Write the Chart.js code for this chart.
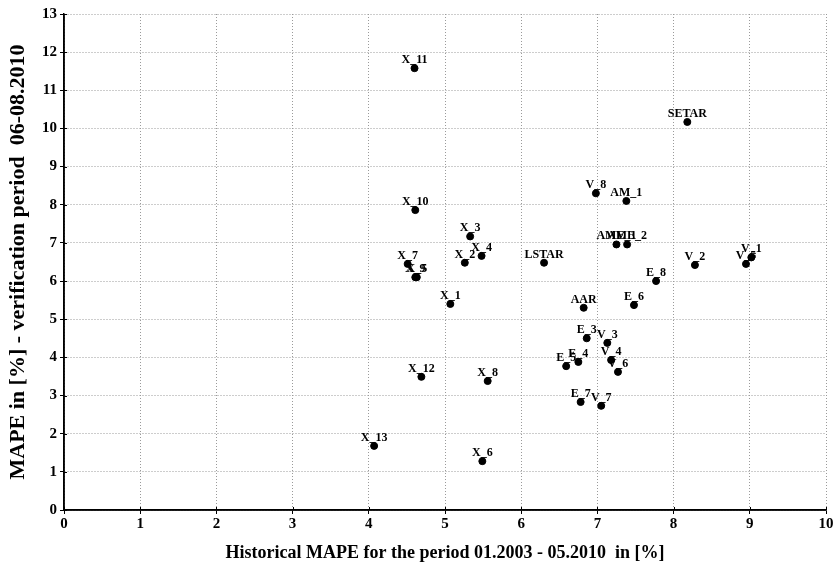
<!DOCTYPE html>
<html><head><meta charset="utf-8">
<script src="https://cdn.jsdelivr.net/npm/chart.js@4"></script>
<style>html,body{margin:0;padding:0;background:#fff}</style>
</head><body>
<canvas id="c" width="838" height="573"></canvas>
<script>
const pointLabels = ["X_11","SETAR","X_10","V_8","AM_1","AME_1","AME_2","X_3","X_4","X_2","LSTAR","X_7","X_9","X_5","V_1","V_5","V_2","E_8","E_6","X_1","AAR","E_3","V_3","V_4","V_6","E_5","E_4","X_12","X_8","E_7","V_7","X_13","X_6"];
const historicalMAPE = [4.60,8.18,4.61,6.98,7.38,7.25,7.39,5.33,5.48,5.26,6.30,4.51,4.61,4.63,9.02,8.95,8.28,7.77,7.48,5.07,6.82,6.86,7.13,7.18,7.27,6.59,6.75,4.69,5.56,6.78,7.05,4.07,5.49];
const verificationMAPE = [11.58,10.17,7.86,8.30,8.10,6.96,6.96,7.17,6.66,6.48,6.48,6.45,6.10,6.10,6.62,6.45,6.42,6.00,5.37,5.40,5.30,4.50,4.38,3.93,3.62,3.77,3.88,3.49,3.38,2.83,2.73,1.68,1.28];
const xTickValues = [0,1,2,3,4,5,6,7,8,9,10];
const yTickValues = [0,1,2,3,4,5,6,7,8,9,10,11,12,13];

const points = historicalMAPE.map((x, i) => ({x: x, y: verificationMAPE[i]}));
const serif = "'Liberation Serif','Times New Roman',serif";

const labelPlugin = {
  id: 'pointLabels',
  afterDatasetsDraw(chart) {
    const ctx = chart.ctx;
    const meta = chart.getDatasetMeta(0);
    ctx.save();
    ctx.fillStyle = '#000';
    ctx.font = "bold 12px " + serif;
    ctx.textAlign = 'center';
    ctx.textBaseline = 'alphabetic';
    meta.data.forEach((el, i) => {
      ctx.fillText(pointLabels[i], el.x, el.y - 5);
    });
    ctx.restore();
  }
};

const innerTicks = {
  id: 'innerTicks',
  afterDraw(chart) {
    const ctx = chart.ctx;
    const xs = chart.scales.x, ys = chart.scales.y;
    ctx.save();
    ctx.strokeStyle = '#000';
    ctx.lineWidth = 1;
    ctx.setLineDash([]);
    ctx.beginPath();
    xTickValues.forEach(v => {
      const px = Math.round(xs.getPixelForValue(v)) + 0.5;
      ctx.moveTo(px, ys.bottom); ctx.lineTo(px, ys.bottom - 3);
    });
    yTickValues.forEach(v => {
      const py = Math.round(ys.getPixelForValue(v)) + 0.5;
      ctx.moveTo(xs.left, py); ctx.lineTo(xs.left + 3, py);
    });
    ctx.stroke();
    ctx.lineWidth = 1.5;
    ctx.beginPath();
    ctx.moveTo(xs.left, ys.top); ctx.lineTo(xs.left, ys.bottom); ctx.lineTo(xs.right, ys.bottom);
    ctx.stroke();
    ctx.restore();
  }
};

new Chart(document.getElementById('c'), {
  type: 'scatter',
  data: {
    datasets: [{
      data: points,
      backgroundColor: '#000',
      borderColor: '#000',
      pointRadius: 3.5,
      pointHoverRadius: 3.5
    }]
  },
  options: {
    responsive: false,
    animation: false,
    events: [],
    layout: { padding: { top: 14, right: 12, left: 0, bottom: 0 } },
    plugins: { legend: { display: false }, tooltip: { enabled: false } },
    scales: {
      x: {
        type: 'linear', min: 0, max: 10,
        afterBuildTicks: s => { s.ticks = xTickValues.map(v => ({value: v})); },
        afterFit: s => { s.height = 63; },
        grid: { color: '#9a9a9a', lineWidth: 1, tickLength: 4, tickColor: '#000', drawTicks: true },
        border: { color: '#000', width: 1.5, dash: [1, 2] },
        ticks: { color: '#000', font: { family: serif, size: 15, weight: 'bold' }, padding: 1, maxRotation: 0 },
        title: { display: true, text: 'Historical MAPE for the period 01.2003 - 05.2010  in [%]', color: '#000', font: { family: serif, size: 18, weight: 'bold' }, padding: { top: 0, bottom: 9 } }
      },
      y: {
        type: 'linear', min: 0, max: 13,
        afterBuildTicks: s => { s.ticks = yTickValues.map(v => ({value: v})); },
        afterFit: s => { s.width = 64; },
        grid: { color: '#9a9a9a', lineWidth: 1, tickLength: 4, tickColor: '#000' },
        border: { color: '#000', width: 1.5, dash: [1, 2] },
        ticks: { color: '#000', font: { family: serif, size: 15, weight: 'bold' }, padding: 3 },
        title: { display: true, text: 'MAPE in [%] - verification period  06-08.2010', color: '#000', font: { family: serif, size: 22, weight: 'bold' }, padding: { top: 5, bottom: 0 } }
      }
    }
  },
  plugins: [labelPlugin, innerTicks]
});
</script>
</body></html>
